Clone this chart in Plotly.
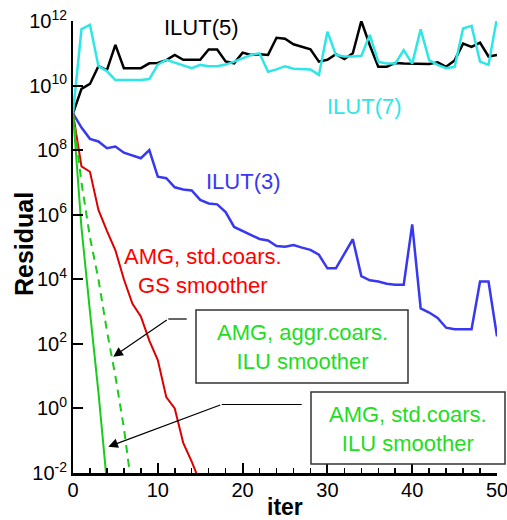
import numpy as np
import plotly.graph_objects as go

# iterations
iters = list(range(0, 51))

# residuals, stored as log10(residual)
ilut5_log10 = [9.14, 9.90, 10.05, 10.60, 10.48, 11.26, 10.54, 10.54, 10.54, 10.69,
               10.70, 10.79, 10.95, 10.80, 10.80, 10.80, 11.12, 11.12, 10.75, 10.69,
               11.02, 10.95, 10.97, 10.95, 11.48, 11.45, 11.28, 11.20, 11.12, 10.74,
               10.80, 10.97, 10.82, 11.00, 12.00, 11.25, 10.58, 10.58, 10.70, 10.68,
               10.68, 10.67, 10.67, 10.72, 10.58, 10.78, 11.30, 11.20, 11.33, 10.90,
               10.95]
ilut7_log10 = [9.14, 11.75, 11.88, 10.60, 10.45, 10.17, 10.17, 10.17, 10.17, 10.20,
               10.65, 10.80, 10.72, 10.62, 10.54, 10.64, 10.60, 10.60, 10.65, 10.74,
               10.85, 10.95, 11.00, 10.43, 10.50, 10.60, 10.52, 10.52, 10.50, 10.33,
               11.67, 10.95, 10.90, 10.90, 10.92, 11.57, 10.74, 10.68, 10.68, 11.10,
               10.68, 11.74, 10.79, 10.64, 10.54, 10.58, 11.77, 11.85, 10.74, 10.64,
               12.10]
ilut3_log10 = [9.14, 8.70, 8.35, 8.27, 8.06, 8.11, 7.92, 7.83, 7.75, 8.00,
               7.18, 7.13, 6.85, 6.78, 6.75, 6.46, 6.35, 6.32, 6.08, 5.62,
               5.50, 5.38, 5.25, 5.20, 5.03, 5.01, 5.06, 4.98, 4.91, 4.76,
               4.34, 4.34, 4.78, 5.24, 4.10, 3.97, 3.93, 3.86, 3.83, 3.83,
               5.70, 3.10, 2.97, 2.80, 2.50, 2.45, 2.45, 2.45, 3.93, 3.93,
               2.23]
amg_std_gs_log10 = [9.14, 7.50, 7.33, 6.15, 5.50, 4.90, 4.00, 3.25, 2.85, 2.10,
                    1.50, 0.35, 0.00, -1.07, -1.65, -2.30]
amg_aggr_ilu_log10 = [9.14, 7.00, 5.30, 4.00, 2.40, 1.00, -0.60, -2.60]
amg_std_ilu_log10 = [9.14, 5.60, 3.00, 0.50, -2.30]

y_tick_exps = [-2, 0, 2, 4, 6, 8, 10, 12]
x_tick_vals = [0, 10, 20, 30, 40, 50]

FONT = "Arial, Liberation Sans, sans-serif"

# pixel geometry of the plotting area
W, H = 507, 520
L, R, T, B = 73, 10, 21, 47
PW, PH = W - L - R, H - T - B


def px(xp):
    return (xp - L) / PW


def py(yp):
    return (H - B - yp) / PH


def pw(v):
    return 10 ** np.array(v)


fig = go.Figure()

series = [
    (ilut5_log10, "#000000", 2.5, "solid"),
    (ilut7_log10, "#2EE6E6", 2.5, "solid"),
    (ilut3_log10, "#3838F0", 2.5, "solid"),
    (amg_std_gs_log10, "#DD0000", 2.0, "solid"),
    (amg_aggr_ilu_log10, "#1ACC1A", 2.0, "8px,6px"),
    (amg_std_ilu_log10, "#1ACC1A", 2.0, "solid"),
]
for vals, color, width, dash in series:
    fig.add_trace(go.Scatter(
        x=iters[:len(vals)], y=pw(vals), mode="lines",
        line=dict(color=color, width=width, dash=dash),
        showlegend=False, hoverinfo="skip"))

annotations = [
    dict(text="ILUT(5)", x=15.1, y=11.81, font=dict(color="#000000", size=22)),
    dict(text="ILUT(7)", x=34.4, y=9.34, font=dict(color="#2EE6E6", size=22)),
    dict(text="ILUT(3)", x=20.05, y=7.02, font=dict(color="#3838F0", size=22)),
    dict(text="AMG, std.coars.<br>GS smoother", x=15.3, y=4.26,
         font=dict(color="#FF0000", size=22)),
]
for a in annotations:
    a.update(xref="x", yref="y", showarrow=False, xanchor="center", yanchor="middle",
             font=dict(family=FONT, **a["font"]))
    fig.add_annotation(**a)

# boxed labels
boxes = [
    ("AMG, aggr.coars.<br>ILU smoother", 196, 408, 310, 383),
    ("AMG, std.coars.<br>ILU smoother", 311, 505, 392, 464),
]
for text, x0, x1, y0, y1 in boxes:
    fig.add_shape(type="rect", xref="paper", yref="paper",
                  x0=px(x0), x1=px(x1), y0=py(y1), y1=py(y0),
                  line=dict(color="#333333", width=1.5), fillcolor="white", layer="above")
    fig.add_annotation(text=text, xref="paper", yref="paper",
                       x=px((x0 + x1) / 2), y=py((y0 + y1) / 2 + 1),
                       showarrow=False, xanchor="center", yanchor="middle",
                       font=dict(family=FONT, size=22, color="#22DD22"))

# leader lines with arrows
arrows = [
    ((113.3, 356.7), (168.3, 319.0), (186.7, 319.0)),
    ((108.3, 446.7), (221.7, 404.5), (301.7, 404.5)),
]
for head, tail, end in arrows:
    fig.add_shape(type="line", xref="paper", yref="paper",
                  x0=px(tail[0]), y0=py(tail[1]), x1=px(end[0]), y1=py(end[1]),
                  line=dict(color="#000000", width=1.2))
    fig.add_annotation(text="", xref="paper", yref="paper",
                       x=px(head[0]), y=py(head[1]), axref="pixel", ayref="pixel",
                       ax=tail[0] - head[0], ay=tail[1] - head[1],
                       showarrow=True, arrowhead=2, arrowsize=1.6, arrowwidth=1.2,
                       arrowcolor="#000000")

# axis titles
fig.add_annotation(text="<b>iter</b>", xref="paper", yref="paper", x=px(285), y=0,
                   yanchor="middle", yshift=-(507 - (H - B)), showarrow=False,
                   font=dict(family=FONT, size=23, color="#000000"))
fig.add_annotation(text="<b>Residual</b>", xref="paper", yref="paper", x=0, y=py(244),
                   xanchor="center", xshift=-(L - 24), textangle=-90, showarrow=False,
                   font=dict(family=FONT, size=25, color="#000000"))

fig.update_layout(
    width=W, height=H,
    margin=dict(l=L, r=R, t=T, b=B, pad=0, autoexpand=False),
    paper_bgcolor="white", plot_bgcolor="white",
    font=dict(family=FONT, color="#000000"),
)
fig.update_xaxes(
    range=[0, 50], showgrid=False, zeroline=False, automargin=False,
    showline=True, linecolor="#000000", linewidth=2.5,
    ticks="inside", ticklen=10, tickwidth=2, tickcolor="#000000",
    tickvals=x_tick_vals, ticktext=[str(v) for v in x_tick_vals],
    tickfont=dict(size=20, family=FONT), ticklabeloverflow="allow",
    ticklabelstandoff=-3,
    minor=dict(dtick=2, tick0=0, ticks="inside", ticklen=5, tickwidth=1.5,
               tickcolor="#000000", showgrid=False),
)
fig.update_yaxes(
    type="log", range=[-2, 12], showgrid=False, zeroline=False, automargin=False,
    showline=True, linecolor="#000000", linewidth=2,
    ticks="inside", ticklen=10, tickwidth=2, tickcolor="#000000",
    tickvals=[10.0 ** e for e in y_tick_exps],
    ticktext=["10<sup>%d</sup>" % e for e in y_tick_exps],
    tickfont=dict(size=20, family=FONT), ticklabeloverflow="allow",
)

fig.write_html(
    "out.html",
    config={"displayModeBar": False, "staticPlot": True},
    post_script="document.body.style.margin='0';document.body.style.overflow='hidden';",
)
